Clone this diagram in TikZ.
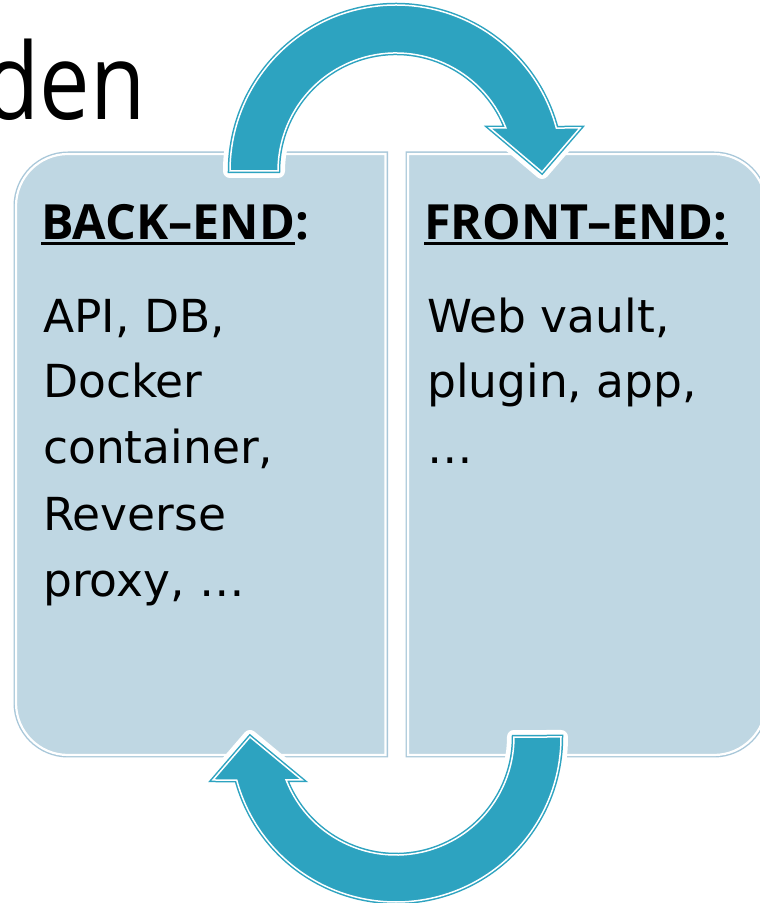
\documentclass[tikz,border=0pt]{standalone}
\usepackage{fontspec}
\setmainfont{DejaVu Sans}
\newfontfamily\headfont{Open Sans}
\definecolor{boxfill}{RGB}{191,215,227}
\definecolor{boxline}{RGB}{168,199,217}
\definecolor{teal}{RGB}{45,163,192}
\newcommand\myul[1]{\setbox0=\hbox{#1}\rlap{\rule[-5pt]{\wd0}{3.2pt}}\box0}
\begin{document}
\begin{tikzpicture}[x=1pt,y=1pt,
  panel/.style={fill=boxfill, draw=white, line width=2.2pt, preaction={draw=boxline, line width=5pt}},
  halo/.style={draw=white, fill=white, line width=14pt, line join=round},
  bigarrow/.style={fill=teal, draw=white, line width=1.5pt, line join=miter, preaction={draw=teal, line width=4.5pt}},
  body/.style={anchor=base west, inner sep=0pt, font=\fontsize{45.5}{54}\selectfont, text=black},
  head/.style={anchor=base west, inner sep=0pt, font=\headfont\bfseries\fontsize{48.5}{56}\selectfont, text=black}]
\useasboundingbox (0,0) rectangle (760,903);
\clip (0,0) rectangle (760,903);
\fill[white] (0,0) rectangle (760,903);
% title fragment
\node[anchor=base east, inner sep=0pt, xscale=0.85, font=\headfont\fontsize{106}{120}\selectfont, text=black] (title) at (146,783) {den};
% panels
\path[panel] (385.5,749) -- (68,749) arc[start angle=90,end angle=180,radius=52pt] -- (16,200) arc[start angle=180,end angle=270,radius=52pt] -- (385.5,148) -- cycle;
\path[panel] (408,749) -- (714,749) arc[start angle=90,end angle=0,radius=52pt] -- (766,200) arc[start angle=0,end angle=-90,radius=52pt] -- (408,148) -- cycle;
% arrows
\def\toparrow{(230,732) arc[start angle=180,end angle=15.01,radius=166pt] -- (580,775) -- (542,731) -- (490,775) -- (505.9,775) arc[start angle=21.37,end angle=180,radius=118pt] -- cycle}
\def\botarrow{(561,166) arc[start angle=0,end angle=-164.89,radius=165pt] -- (213,123) -- (250,166) -- (302,123) -- (286.1,123) arc[start angle=-158.63,end angle=0,radius=118pt] -- cycle}
\path[halo] \toparrow;
\path[bigarrow] \toparrow;
\path[halo] \botarrow;
\path[bigarrow] \botarrow;
% texts
\node[head] (bh) at (41,663) {\myul{BACK–END}:};
\node[body] (b1) at (43,570) {API, DB,};
\node[body] (b2) at (43,505) {Docker};
\node[body] (b3) at (43,439) {container,};
\node[body] (b4) at (43,372) {Reverse};
\node[body] (b5) at (43,306) {proxy, …};
\node[head] (fh) at (424,663) {\myul{FRONT–END:}};
\node[body] (f1) at (427,570) {Web vault,};
\node[body] (f2) at (427,505) {plugin, app,};
\node[body] (f3) at (427,439) {…};
\end{tikzpicture}
\end{document}
